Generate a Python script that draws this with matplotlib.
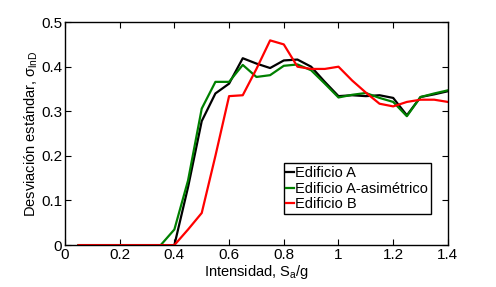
import matplotlib
matplotlib.use('Agg')
import matplotlib.pyplot as plt
from matplotlib.ticker import FormatStrFormatter

plt.rcParams['font.family'] = ['Liberation Sans Narrow', 'Liberation Sans', 'DejaVu Sans']
plt.rcParams['mathtext.fontset'] = 'custom'
plt.rcParams['mathtext.rm'] = 'Liberation Sans'
plt.rcParams['mathtext.it'] = 'Liberation Sans'

# intensidad Sa/g
x = [0.05, 0.10, 0.15, 0.20, 0.25, 0.30, 0.35, 0.40, 0.45, 0.50, 0.55, 0.60, 0.65, 0.70,
     0.75, 0.80, 0.85, 0.90, 0.95, 1.00, 1.05, 1.10, 1.15, 1.20, 1.25, 1.30, 1.35, 1.40]

edif_a = [0, 0, 0, 0, 0, 0, 0, 0, 0.13, 0.278, 0.34, 0.362, 0.419, 0.407,
          0.397, 0.414, 0.416, 0.40, 0.366, 0.334, 0.336, 0.334, 0.336, 0.33, 0.291, 0.332, 0.338, 0.345]
edif_a_asim = [0, 0, 0, 0, 0, 0, 0, 0.035, 0.145, 0.306, 0.366, 0.366, 0.404, 0.377,
               0.381, 0.402, 0.405, 0.392, 0.362, 0.331, 0.337, 0.341, 0.33, 0.321, 0.289, 0.332, 0.34, 0.347]
edif_b = [0, 0, 0, 0, 0, 0, 0, 0, 0.035, 0.072, 0.20, 0.334, 0.336, 0.395,
          0.459, 0.45, 0.40, 0.395, 0.395, 0.40, 0.369, 0.342, 0.317, 0.311, 0.321, 0.326, 0.326, 0.321]

fig = plt.figure(figsize=(4.96, 2.87), dpi=100)
ax = fig.add_axes([0.131, 0.146, 0.772, 0.777])

ax.plot(x, edif_a, color='black', lw=1.6, label='Edificio A')
ax.plot(x, edif_a_asim, color='#008000', lw=1.6, label='Edificio A-asimétrico')
ax.plot(x, edif_b, color='#ff0000', lw=1.6, label='Edificio B')

ax.set_xlim(0, 1.4)
ax.set_ylim(0, 0.5)
ax.set_xticks([0, 0.2, 0.4, 0.6, 0.8, 1.0, 1.2, 1.4])
ax.set_yticks([0, 0.1, 0.2, 0.3, 0.4, 0.5])
ax.xaxis.set_major_formatter(FormatStrFormatter('%g'))
ax.yaxis.set_major_formatter(FormatStrFormatter('%g'))
ax.tick_params(direction='in', top=True, right=True, labelsize=11, length=4, pad=2)
for s in ax.spines.values():
    s.set_linewidth(1.0)

ax.set_xlabel(r'Intensidad, S$_{\mathrm{a}}$/g', fontsize=10.5, labelpad=1)
ax.set_ylabel(r'Desviación estándar, $\sigma_{\mathrm{lnD}}$', fontsize=10.5, labelpad=1)

leg = ax.legend(loc='lower right', bbox_to_anchor=(0.956, 0.139), fontsize=10.5,
                handlelength=0.5, handletextpad=0.1, borderpad=0.2, labelspacing=0.1,
                fancybox=False, framealpha=1, borderaxespad=0)
leg.get_frame().set_edgecolor('black')
leg.get_frame().set_linewidth(1.0)

fig.savefig('out.png', dpi=100)
